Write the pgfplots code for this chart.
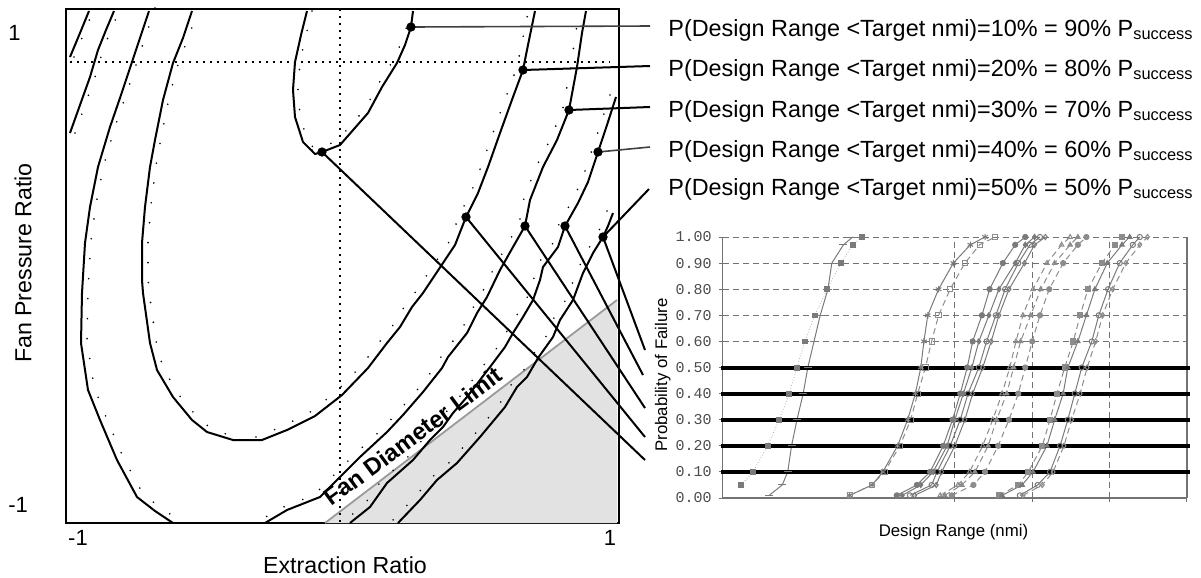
\documentclass[border=0pt]{standalone}
\usepackage{fontspec}
\setmainfont{Liberation Sans}
\newfontfamily\monofont{Liberation Mono}
\usepackage{pgfplots}
\usepackage{pgfplotstable}
\pgfplotsset{compat=1.18}

\definecolor{fillgray}{HTML}{E2E2E2}
\definecolor{limitgray}{HTML}{9A9A9A}
\definecolor{cdfgray}{HTML}{7A7A7A}
\definecolor{cdfdash}{HTML}{8C8C8C}

\tikzset{caption/.style={anchor=west, inner sep=0pt, font=\fontsize{11.7}{14}\selectfont}}

% contour lines of the design space, read in picture units (y grows downward)
\pgfplotstableread{
x y
70 57
80 33
89 11
}\cone
\pgfplotstableread{
x y
70 133
80 105
90 77
98 50
106 30
114 11
}\ctwo
\pgfplotstableread{
x y
149 11
141 35
132 62
121 95
110 127
98 167
90 207
85 243
82 293
81 343
88 390
100 420
117 460
137 497
155 511
173 523
}\cthree
\pgfplotstableread{
x y
192 11
183 38
173 63
163 100
155 140
150 167
145 207
142 243
142 280
143 293
150 343
157 370
173 397
192 420
207 432
233 440
262 440
287 430
315 416
342 395
368 368
387 343
400 327
412 307
423 293
443 263
455 245
466 217
478 193
488 167
500 133
513 97
523 70
528 45
535 11
}\cfour
\pgfplotstableread{
x y
307 11
301 35
295 62
293 90
295 117
303 142
315 154
322 152
340 145
368 113
382 87
397 63
405 45
411 27
413 11
}\czero
\pgfplotstableread{
x y
586 11
582 33
577 67
569 110
557 140
543 167
530 200
525 226
513 247
500 270
487 297
477 313
467 333
448 357
442 368
423 392
403 415
387 432
360 457
340 477
320 497
287 510
265 523
}\cfive
\pgfplotstableread{
x y
616 97
607 125
598 152
588 182
578 203
565 226
558 247
543 267
540 280
533 300
523 317
513 333
505 347
493 363
480 380
467 397
453 413
443 427
430 440
413 460
387 483
370 507
350 523
}\csix
\pgfplotstableread{
x y
613 213
608 226
603 237
593 253
583 273
573 300
560 320
553 337
538 358
527 377
517 387
505 407
480 437
457 463
437 480
420 500
398 523
}\cseven

% design range (in grid units) at each probability of failure
\pgfplotstableread{
p    sa   sb   sc   sd   ga   gb   gc   gd   ha   hb   hc   ka   kb   kc   kd
0.01 0.60 nan  1.64 1.64 2.25 2.32 2.42 2.48 2.81 2.87 2.96 3.57 3.61 3.84 3.88
0.05 0.77 0.24 1.93 1.93 2.51 2.56 2.70 2.76 3.04 3.09 3.24 3.82 3.87 4.07 4.13
0.10 0.84 0.39 2.07 2.09 2.68 2.72 2.77 2.83 3.19 3.26 3.39 3.95 4.01 4.23 4.27
0.20 0.89 0.58 2.26 2.29 2.85 2.90 2.94 3.00 3.36 3.43 3.56 4.13 4.19 4.36 4.41
0.30 0.96 0.73 2.39 2.43 2.97 3.00 3.07 3.13 3.49 3.54 3.70 4.23 4.29 4.46 4.51
0.40 1.04 0.86 2.49 2.52 3.07 3.11 3.17 3.23 3.61 3.67 3.82 4.32 4.40 4.55 4.62
0.50 1.10 0.96 2.56 2.62 3.16 3.22 3.31 3.36 3.71 3.76 3.91 4.42 4.46 4.64 4.71
0.60 1.18 1.06 2.60 2.70 3.23 3.31 3.41 3.47 3.79 3.85 4.00 4.53 4.59 4.77 4.82
0.70 1.26 1.19 2.65 2.79 3.35 3.44 3.53 3.57 3.88 3.98 4.10 4.62 4.70 4.86 4.91
0.80 1.36 1.35 2.79 2.94 3.45 3.57 3.65 3.70 4.01 4.11 4.22 4.72 4.81 4.98 5.04
0.90 1.41 1.53 2.98 3.13 3.62 3.78 3.82 3.90 4.19 4.29 4.40 4.90 4.97 5.13 5.21
0.97 1.56 1.68 3.20 3.32 3.78 3.91 3.97 4.03 4.38 4.49 4.59 5.07 5.16 5.30 5.39
1.00 1.68 1.80 3.39 3.52 3.91 4.03 4.10 4.17 4.49 4.59 4.70 5.16 5.26 5.39 5.49
}\cdf

\begin{document}
\begin{tikzpicture}
\useasboundingbox (0,0) rectangle (600.5pt,-289pt);

\begin{axis}[
  at={(33pt,-261.5pt)}, anchor=south west,
  scale only axis, width=276.5pt, height=257pt,
  xmin=66, xmax=619, ymin=9, ymax=523, y dir=reverse,
  axis line style={line width=1pt},
  xtick={78,610}, xticklabels={-1,1},
  ytick={33,505}, yticklabels={1,-1},
  major tick length=0pt,
  tick label style={font=\fontsize{11}{13}\selectfont},
  xticklabel style={anchor=north, inner sep=0pt, yshift=-3.5pt},
  yticklabel style={anchor=west, inner sep=0pt, xshift=-29pt},
  clip=false,
  contour/.style={black, line width=1pt, line join=round},
  dots/.style={black, line width=0.9pt, line cap=round, dash pattern=on 0pt off 10pt},
]
\addplot[fill=fillgray, draw=none] coordinates {(325,523) (617,300) (617,523)} -- cycle;
\addplot[limitgray, line width=0.9pt] coordinates {(325,523) (617,300)};
\addplot[black, line width=0.7pt, dash pattern=on 0.8pt off 2.7pt] coordinates {(340,9) (340,523)};
\addplot[black, line width=0.7pt, dash pattern=on 0.8pt off 2.7pt] coordinates {(70,62) (610,62)};

\addplot[contour] table {\cone};
\addplot[contour] table {\ctwo};
\addplot[contour] table {\cthree};
\addplot[contour] table {\cfour};
\addplot[contour] table {\czero};
\addplot[contour] table {\cfive};
\addplot[contour] table {\csix};
\addplot[contour] table {\cseven};

\addplot[dots, transform canvas={xshift=2pt}] table {\cone};
\addplot[dots, transform canvas={xshift=2.5pt}] table {\ctwo};
\addplot[dots, transform canvas={xshift=3pt, yshift=1.5pt}] table {\cthree};
\addplot[dots, transform canvas={xshift=3pt, yshift=1pt}, restrict x to domain=0:250] table {\cfour};
\addplot[dots, transform canvas={xshift=-3pt, yshift=1.5pt}, restrict x to domain=250:700] table {\cfour};
\addplot[dots, transform canvas={xshift=2.5pt}, restrict x to domain=0:315] table {\czero};
\addplot[dots, transform canvas={xshift=-1.5pt, yshift=2pt}, restrict x to domain=315:700] table {\czero};
\addplot[dots, transform canvas={xshift=-3pt, yshift=1pt}] table {\cfive};
\addplot[dots, transform canvas={xshift=-3pt, yshift=1pt}] table {\csix};
\addplot[dots, transform canvas={xshift=-3pt, yshift=1pt}] table {\cseven};

% leaders to the captions
\addplot[black!75, line width=0.8pt] coordinates {(411,27) (650,26)};
\addplot[black, line width=1pt] coordinates {(523,70) (650,66)};
\addplot[black, line width=1pt] coordinates {(569,110) (650,107)};
\addplot[black!75, line width=0.8pt] coordinates {(598,152) (650,147)};
\addplot[black, line width=1pt] coordinates {(603,237) (649,189)};
% leaders to the probability levels
\addplot[black, line width=1pt] coordinates {(322,152) (645,460)};
\addplot[black, line width=1pt] coordinates {(466,217) (645,437)};
\addplot[black, line width=1pt] coordinates {(525,226) (645,408)};
\addplot[black, line width=1pt] coordinates {(565,226) (643,375)};
\addplot[black, line width=1pt] coordinates {(603,237) (645,350)};

\addplot[only marks, mark=*, mark size=2.1pt, black] coordinates {
  (411,27) (523,70) (569,110) (598,152) (603,237)
  (322,152) (466,217) (525,226) (565,226)};

\node[rotate=36.5, font=\bfseries\fontsize{11.9}{14}\selectfont] at (axis cs:413,436) {Fan Diameter Limit};
\node[rotate=90, font=\fontsize{11.6}{14}\selectfont] at (axis cs:23,263) {Fan Pressure Ratio};
\node[font=\fontsize{11.6}{14}\selectfont] at (axis cs:345,565) {Extraction Ratio};

\node[caption] at (axis cs:668,30) {P(Design Range <Target nmi)=10\% = 90\% P\textsubscript{success}};
\node[caption] at (axis cs:668,70) {P(Design Range <Target nmi)=20\% = 80\% P\textsubscript{success}};
\node[caption] at (axis cs:668,111) {P(Design Range <Target nmi)=30\% = 70\% P\textsubscript{success}};
\node[caption] at (axis cs:668,151) {P(Design Range <Target nmi)=40\% = 60\% P\textsubscript{success}};
\node[caption] at (axis cs:668,189) {P(Design Range <Target nmi)=50\% = 50\% P\textsubscript{success}};
\end{axis}

\begin{axis}[
  at={(361.35pt,-249pt)}, anchor=south west,
  scale only axis, width=232.15pt, height=130.5pt,
  xmin=0, xmax=6, ymin=0, ymax=1,
  axis x line*=bottom, axis y line*=box,
  ytick pos=left,
  axis line style={draw=black!55, line width=0.6pt},
  xtick={3,4,5,6}, xticklabels={},
  ytick={0,0.1,0.2,0.3,0.4,0.5,0.6,0.7,0.8,0.9,1},
  yticklabel style={/pgf/number format/.cd, fixed, fixed zerofill, precision=2, assume math mode=true},
  tick label style={font=\monofont\fontsize{7.5}{9}\selectfont, text=black!70},
  tick align=outside, major tick length=2pt, tick style={black!55, line width=0.5pt},
  grid=major, grid style={densely dashed, black!55, line width=0.4pt},
  clip=false,
  xlabel={Design Range (nmi)}, ylabel={Probability of Failure},
  xlabel style={at={(axis description cs:0.497,-0.130)}, anchor=center, font=\fontsize{8.4}{10}\selectfont},
  ylabel style={at={(axis description cs:-0.129,0.471)}, anchor=center, font=\fontsize{8.4}{10}\selectfont},
  solidcdf/.style={cdfgray, line width=0.5pt, mark size=1.3pt, mark options={solid, fill=cdfgray}},
  dashcdf/.style={cdfdash, line width=0.5pt, densely dashed, mark size=1.3pt, mark options={solid, fill=white}},
]
\addplot[solidcdf, mark=-, mark size=2pt] table[x=sa, y=p] {\cdf};
\addplot[cdfgray!60, line width=0.4pt, densely dotted, mark=square*, mark size=1.2pt, mark options={solid, fill=cdfgray, draw=cdfgray}] table[x=sb, y=p] {\cdf};
\addplot[solidcdf, mark=asterisk, mark size=1.6pt] table[x=sc, y=p] {\cdf};
\addplot[dashcdf, mark=square] table[x=sd, y=p] {\cdf};
\addplot[solidcdf, mark=*] table[x=ga, y=p] {\cdf};
\addplot[solidcdf, mark=diamond*] table[x=gb, y=p] {\cdf};
\addplot[solidcdf, mark=o, mark options={solid, fill=white}] table[x=gc, y=p] {\cdf};
\addplot[solidcdf, mark=diamond, mark options={solid, fill=white}] table[x=gd, y=p] {\cdf};
\addplot[dashcdf, mark=triangle] table[x=ha, y=p] {\cdf};
\addplot[dashcdf, mark=triangle*, mark options={solid, fill=cdfdash}] table[x=hb, y=p] {\cdf};
\addplot[dashcdf, mark=*, mark options={solid, fill=cdfdash}] table[x=hc, y=p] {\cdf};
\addplot[dashcdf, mark=square*, mark options={solid, fill=cdfdash}] table[x=ka, y=p] {\cdf};
\addplot[solidcdf, mark=triangle*] table[x=kb, y=p] {\cdf};
\addplot[solidcdf, mark=o, mark options={solid, fill=white}] table[x=kc, y=p] {\cdf};
\addplot[dashcdf, mark=diamond] table[x=kd, y=p] {\cdf};

\addplot[black, line width=2pt] coordinates {(-0.022,0.1) (6.04,0.1)};
\addplot[black, line width=2pt] coordinates {(-0.022,0.2) (6.04,0.2)};
\addplot[black, line width=2pt] coordinates {(-0.022,0.3) (6.04,0.3)};
\addplot[black, line width=2pt] coordinates {(-0.022,0.4) (6.04,0.4)};
\addplot[black, line width=2pt] coordinates {(-0.022,0.5) (6.04,0.5)};
\end{axis}
\end{tikzpicture}
\end{document}
